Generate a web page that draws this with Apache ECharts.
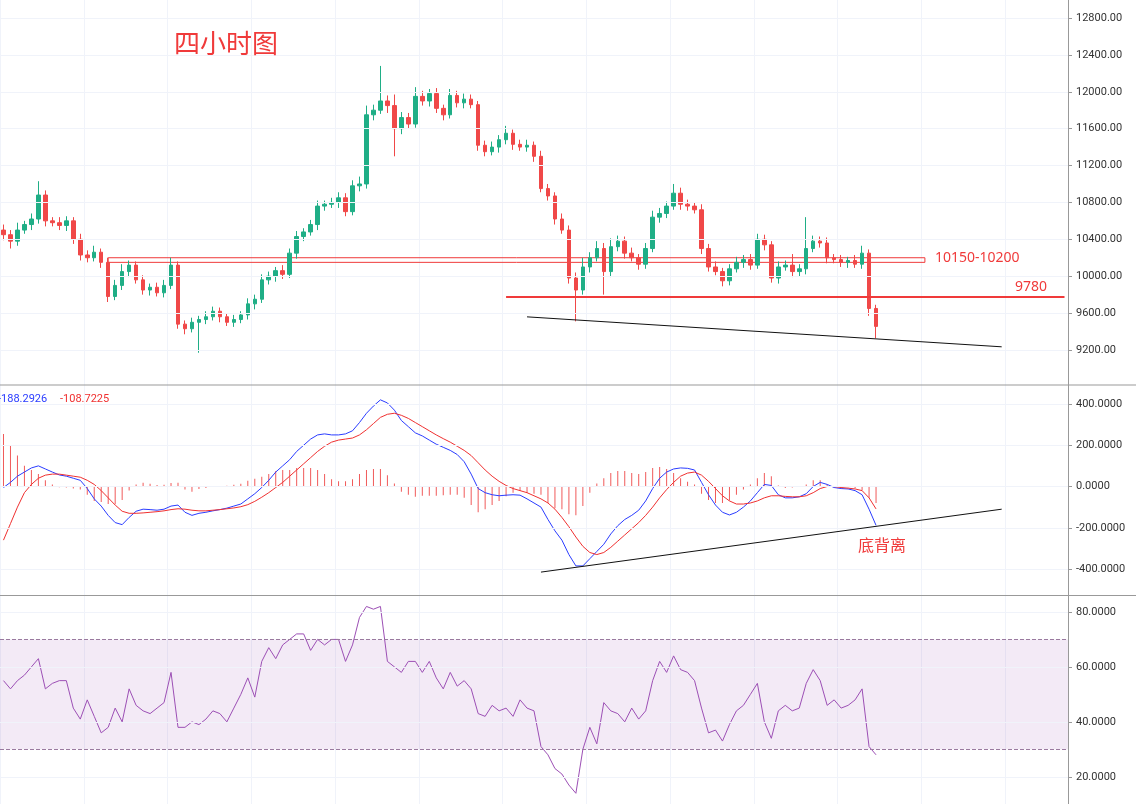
<!DOCTYPE html>
<html><head><meta charset="utf-8">
<script src="https://cdn.jsdelivr.net/npm/echarts@6/dist/echarts.min.js"></script>
<style>html,body{margin:0;padding:0;background:#fff}#c{width:1136px;height:804px}</style>
</head><body><div id="c"></div>
<script>
const closes = [10450,10380,10500,10560,10620,10880,10600,10580,10550,10600,10400,10230,10200,10260,10150,9780,9900,10050,10120,9960,
9850,9880,9820,9900,10120,9480,9430,9500,9530,9560,9620,9560,9500,9530,9580,9700,9750,9960,10000,10060,
10020,10250,10430,10480,10560,10760,10780,10800,10850,10700,10980,11000,11750,11800,11900,11850,11600,11720,11650,11950,
11900,11980,11820,11750,11960,11880,11920,11860,11420,11350,11400,11480,11550,11430,11400,11420,11300,10950,10870,10620,
10500,9980,9850,10100,10200,10300,10050,10320,10380,10250,10200,10130,10300,10640,10680,10760,10900,10780,10760,10720,
10300,10100,10050,9950,10080,10150,10180,10120,10400,10340,9980,10100,10120,10050,10080,10300,10380,10360,10200,10180,
10150,10170,10130,10250,9650,9455.69];
const firstOpen = 10500;
const wickUp = [60,50,80,40,60,150,50,40,60,50,40,60,50,70,40,50,60,80,50,40,
50,40,50,60,80,40,40,50,40,60,50,40,40,50,40,60,50,60,50,40,
60,50,60,40,50,60,40,50,60,50,60,80,100,60,380,60,120,60,50,100,
60,50,60,40,70,50,60,50,40,50,60,50,80,40,50,60,40,60,50,40,
60,50,60,100,60,80,60,90,60,50,60,40,60,70,60,50,100,60,50,40,
60,50,60,40,50,60,50,60,60,50,40,60,50,120,50,340,60,50,60,40,
50,40,60,80,40,40];
const wickDn = [60,80,50,40,60,50,60,40,50,60,50,60,50,40,60,60,40,50,60,40,
50,60,40,50,40,50,60,40,330,50,40,60,40,50,40,50,60,40,50,60,
50,40,60,50,40,60,50,40,60,50,40,60,50,60,40,80,300,60,50,40,
50,60,50,60,40,50,60,40,60,50,40,60,50,60,40,50,60,40,50,60,
40,60,340,50,60,40,250,60,50,60,40,60,50,40,60,50,40,60,50,40,
60,50,40,60,50,40,60,50,40,60,50,60,40,60,50,60,40,50,60,40,
50,60,40,50,80,130];
const dif = [-5,20,50,70,90,100,85,70,56,50,40,30,-10,-60,-95,-140,-175,-185,-150,-120,
-110,-112,-115,-110,-95,-90,-125,-140,-130,-125,-118,-112,-105,-95,-85,-60,-35,-5,30,70,
100,130,170,200,230,250,255,250,250,255,270,310,355,390,420,405,370,320,290,260,
245,225,205,190,175,155,120,60,-10,-30,-40,-45,-42,-40,-42,-60,-80,-100,-160,-215,
-260,-330,-385,-385,-350,-315,-280,-230,-190,-160,-140,-115,-70,-10,40,70,85,90,88,80,
20,-40,-90,-125,-138,-125,-100,-70,-30,10,5,-40,-55,-55,-50,-35,0,20,10,-5,
-10,-12,-20,-40,-110,-188.2926];
const dea = [-260,-180,-100,-30,10,40,55,60,60,55,50,45,30,10,-20,-55,-90,-120,-130,-130,
-128,-125,-122,-118,-112,-108,-110,-115,-118,-118,-115,-112,-108,-104,-98,-88,-72,-52,-30,-5,
20,50,80,110,140,170,195,215,225,230,235,250,275,305,335,350,355,345,330,310,
290,270,250,232,215,195,175,150,115,80,50,25,5,-10,-20,-30,-45,-60,-80,-110,
-150,-195,-245,-290,-320,-330,-320,-295,-265,-235,-205,-175,-140,-100,-55,-15,20,50,65,70,
55,25,-10,-45,-70,-85,-85,-80,-70,-55,-45,-45,-48,-50,-50,-45,-30,-10,0,0,
-5,-8,-12,-20,-55,-108.7225];
const rsi = [55,52,55,57,60,63,52,54,55,55,45,41,48,42,36,38,45,40,52,46,
44,43,45,47,58,38,38,40,39,41,44,43,40,45,50,56,49,62,67,63,
68,70,72,72,66,70,68,70,70,62,68,78,82,81,82,62,60,58,62,62,
58,62,56,52,58,53,55,52,43,42,46,44,45,42,48,45,44,31,28,23,
21,17,14,30,38,32,47,44,43,40,45,41,44,55,62,58,64,59,58,55,
45,36,37,33,39,44,46,50,54,40,34,44,46,44,45,54,59,55,46,48,
45,46,48,52,31,28];
const priceTicks = [9200,9600,10000,10400,10800,11200,11600,12000,12400,12800];
const macdTicks = [-400,-200,0,200,400];
const rsiTicks = [20,40,60,80];
const zoneLabel = '10150-10200';
const supportLabel = '9780';
const titleText = '四小时图';
const divergenceText = '底背离';

const NCAT = 153;
const cats = Array.from({length:NCAT},(_, i)=>String(i));
const ohlc = closes.map((c,i)=>{
  const o = i===0?firstOpen:closes[i-1];
  return [o,c,Math.min(o,c)-wickDn[i],Math.max(o,c)+wickUp[i]];
});
const hist = dif.map((d,i)=>+(d-dea[i]).toFixed(4));
const UP='#1fae86', DN='#f04848';
const gridCol = '#f0f3fa';
const axLab = {color:'#333',fontSize:11,fontFamily:'Roboto'};
function xa(g){return {type:'category',gridIndex:g,data:cats,boundaryGap:true,axisLabel:{show:false},axisTick:{show:false},axisLine:{show:false},
  splitLine:{show:true,interval:11,lineStyle:{color:gridCol}}};}
function ya(g,min,max,ticks,dec){return {type:'value',gridIndex:g,position:'right',min,max,scale:false,
  axisLine:{show:true,lineStyle:{color:'#999'}},axisTick:{show:true,length:4,customValues:ticks,lineStyle:{color:'#999'}},
  axisLabel:Object.assign({customValues:ticks,margin:8,formatter:v=>v.toFixed(dec)},axLab),
  splitLine:{show:false}};}
function hlines(g,ticks){return {type:'line',xAxisIndex:g,yAxisIndex:g,data:[],silent:true,
  markLine:{silent:true,symbol:'none',label:{show:false},lineStyle:{color:gridCol,type:'solid',width:1},data:ticks.map(t=>({yAxis:t}))},z:0};}

const chart = echarts.init(document.getElementById('c'));
chart.setOption({
  animation:false,
  backgroundColor:'#fff',
  grid:[{left:0,right:68,top:0,height:385},{left:0,right:68,top:385,height:210},{left:0,right:68,top:596,height:208}],
  xAxis:[xa(0),xa(1),xa(2)],
  yAxis:[ya(0,8820,12995,priceTicks,2),ya(1,-526,492,macdTicks,4),ya(2,10.1,85.8,rsiTicks,4)],
  series:[
    hlines(0,priceTicks),hlines(1,macdTicks),hlines(2,rsiTicks),
    {type:'candlestick',xAxisIndex:0,yAxisIndex:0,data:ohlc,barWidth:4,
     itemStyle:{color:UP,color0:DN,borderColor:UP,borderColor0:DN,borderWidth:1},
     markArea:{silent:true,itemStyle:{color:'rgba(0,0,0,0)',borderColor:'#f03a3a',borderWidth:1},
       data:[[{xAxis:'15',yAxis:10150},{xAxis:'132',yAxis:10200}]]},
     markLine:{silent:true,symbol:'none',animation:false,
       data:[
        [{coord:['72',9780],lineStyle:{color:'#f03a3a',width:2,type:'solid'}},{coord:['152',9780]}],
        [{coord:['75',9559],lineStyle:{color:'#111',width:1,type:'solid'}},{coord:['143',9234]}],
        {yAxis:9455.69,lineStyle:{opacity:0},label:{show:true,position:'end',formatter:'9455.69',color:'#fff',backgroundColor:'#f04848',padding:[3,4],fontSize:11,fontWeight:'bold',distance:2}}
       ],label:{show:false}}},
    {type:'bar',xAxisIndex:1,yAxisIndex:1,data:hist,barWidth:1,itemStyle:{color:'#f05a5a'}},
    {type:'line',xAxisIndex:1,yAxisIndex:1,data:dif,symbol:'none',lineStyle:{color:'#2a3cff',width:1},
     markLine:{silent:true,symbol:'none',data:[[{coord:['77',-415],lineStyle:{color:'#111',width:1,type:'solid'}},{coord:['143',-110]}]],label:{show:false}}},
    {type:'line',xAxisIndex:1,yAxisIndex:1,data:dea,symbol:'none',lineStyle:{color:'#f03030',width:1}},
    {type:'line',xAxisIndex:2,yAxisIndex:2,data:rsi,symbol:'none',lineStyle:{color:'#9c4fb5',width:1},
     markArea:{silent:true,itemStyle:{color:'rgba(156,79,181,0.12)'},data:[[{yAxis:30},{yAxis:70}]]},
     markLine:{silent:true,symbol:'none',label:{show:false},lineStyle:{color:'#9a7a9f',type:'dashed',width:1},data:[{yAxis:70},{yAxis:30}]}}
  ],
  graphic:[
    {type:'line',shape:{x1:0,y1:385,x2:1136,y2:385},style:{stroke:'#999',lineWidth:1},z:101},
    {type:'line',shape:{x1:0,y1:595.5,x2:1136,y2:595.5},style:{stroke:'#999',lineWidth:1},z:101},
    {type:'text',left:174,top:30,style:{text:titleText,fill:'#f03a3a',font:'26px "Noto Sans CJK SC"'},z:102},
    {type:'text',left:935,top:251,style:{text:zoneLabel,fill:'#f03a3a',font:'14px "Noto Sans"'},z:102},
    {type:'text',left:1015,top:280,style:{text:supportLabel,fill:'#f03a3a',font:'14px "Noto Sans"'},z:102},
    {type:'text',left:858,top:537,style:{text:divergenceText,fill:'#f03a3a',font:'16px "Noto Sans CJK SC"'},z:102},
    {type:'text',left:-2,top:394,style:{text:dif[dif.length-1].toFixed(4),fill:'#2a3cff',font:'11px Roboto'},z:102},
    {type:'text',left:60,top:394,style:{text:dea[dea.length-1].toFixed(4),fill:'#f03030',font:'11px Roboto'},z:102}
  ]
});
</script></body></html>
